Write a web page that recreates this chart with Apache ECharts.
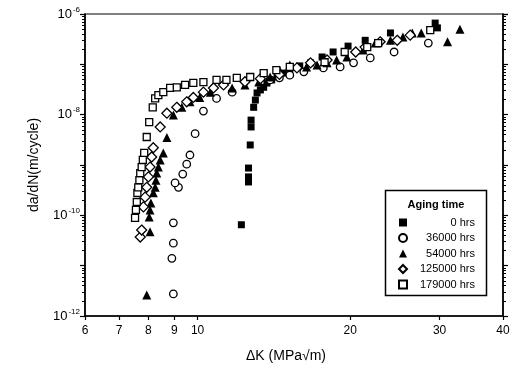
<!DOCTYPE html>
<html>
<head>
<meta charset="utf-8">
<script src="https://cdn.jsdelivr.net/npm/echarts@6/dist/echarts.min.js"></script>
<style>html,body{margin:0;padding:0;background:#fff}#c{width:517px;height:376px}</style>
</head>
<body>
<div id="c"></div>
<script>
// ---- data (ΔK in MPa√m, da/dN in m/cycle) ----
const names = ['0 hrs', '36000 hrs', '54000 hrs', '125000 hrs', '179000 hrs'];
const hrs0 = [[12.2,6.5e-11],[12.6,4.6e-10],[12.6,5.8e-10],[12.6,8.7e-10],[12.7,2.5e-9],[12.75,5.7e-9],[12.75,7.8e-9],[12.9,1.4e-8],[13.0,1.95e-8],[13.1,2.7e-8],[13.3,3.1e-8],[13.5,3.5e-8],[13.7,4.25e-8],[14.0,4.9e-8],[14.35,5.6e-8],[14.75,6.7e-8],[15.2,7.7e-8],[15.9,9.3e-8],[16.7,1.07e-7],[17.6,1.4e-7],[18.5,1.76e-7],[19.8,2.3e-7],[21.4,3.0e-7],[24.0,4.2e-7],[29.4,6.6e-7],[29.7,5.3e-7]];
const hrs36000 = [[8.96,2.75e-12],[8.9,1.4e-11],[8.96,2.8e-11],[8.96,7.1e-11],[9.17,3.6e-10],[9.03,4.4e-10],[9.35,6.6e-10],[9.52,1.04e-9],[9.66,1.58e-9],[9.89,4.2e-9],[10.27,1.18e-8],[10.9,2.1e-8],[11.7,2.8e-8],[13.9,4.9e-8],[14.5,5.4e-8],[15.2,6.1e-8],[16.2,7.1e-8],[17.7,8.5e-8],[19.1,8.9e-8],[20.3,1.07e-7],[21.9,1.34e-7],[24.4,1.76e-7],[28.5,2.65e-7]];
const hrs54000 = [[7.94,2.6e-12],[8.06,4.7e-11],[8.03,9.3e-11],[8.06,1.28e-10],[8.09,1.76e-10],[8.18,2.8e-10],[8.25,3.6e-10],[8.28,5.0e-10],[8.31,6.9e-10],[8.37,9.1e-10],[8.44,1.26e-9],[8.56,1.74e-9],[8.70,3.5e-9],[8.96,9.8e-9],[9.31,1.4e-8],[9.66,1.8e-8],[10.1,2.2e-8],[10.6,2.8e-8],[11.7,3.4e-8],[12.4,3.9e-8],[13.2,4.45e-8],[13.9,5.6e-8],[14.5,7.7e-8],[15.2,9.7e-8],[16.4,8.9e-8],[17.2,9.7e-8],[18.0,1.07e-7],[18.8,1.22e-7],[19.7,1.4e-7],[21.2,1.93e-7],[22.4,2.65e-7],[24.0,3.0e-7],[25.4,3.5e-7],[26.5,4.2e-7],[27.6,4.2e-7],[31.1,2.8e-7],[32.9,5.0e-7]];
const hrs125000 = [[7.71,3.7e-11],[7.76,5.1e-11],[7.82,1.47e-10],[7.88,2.3e-10],[7.94,3.6e-10],[8.00,5.8e-10],[8.06,9.1e-10],[8.12,1.44e-9],[8.18,2.2e-9],[8.44,5.7e-9],[8.70,1.07e-8],[9.10,1.4e-8],[9.52,1.8e-8],[9.81,2.2e-8],[10.27,2.8e-8],[10.75,3.4e-8],[11.25,3.9e-8],[12.4,4.5e-8],[13.3,5.2e-8],[14.5,6.3e-8],[15.7,8.5e-8],[16.7,1.07e-7],[18.0,1.22e-7],[20.5,1.76e-7],[21.4,2.2e-7],[22.9,2.8e-7],[24.75,3.0e-7],[26.25,3.8e-7]];
const hrs179000 = [[7.53,8.9e-11],[7.56,1.28e-10],[7.59,1.84e-10],[7.61,2.8e-10],[7.64,3.6e-10],[7.68,5.0e-10],[7.71,6.9e-10],[7.76,9.1e-10],[7.80,1.26e-9],[7.85,1.74e-9],[7.94,3.6e-9],[8.03,7.1e-9],[8.16,1.4e-8],[8.25,2.1e-8],[8.37,2.45e-8],[8.56,2.8e-8],[8.83,3.4e-8],[9.10,3.5e-8],[9.45,3.9e-8],[9.81,4.3e-8],[10.27,4.45e-8],[10.9,4.9e-8],[11.4,4.9e-8],[11.95,5.4e-8],[12.7,5.6e-8],[13.5,6.7e-8],[14.3,7.7e-8],[15.2,8.9e-8],[17.8,1.1e-7],[19.5,1.76e-7],[21.6,2.2e-7],[22.7,2.65e-7],[28.75,4.8e-7]];
const xTicks = [6, 7, 8, 9, 10, 20, 30, 40];
const yLabelExps = [-12, -10, -8, -6];
const yMin = 1e-12, yMax = 1e-6;

// minor tick positions (2..9 within each decade)
const yMinor = [];
for (let e = -12; e < -6; e++) for (let m = 2; m <= 9; m++) yMinor.push(+(m * Math.pow(10, e)).toPrecision(3));

const FONT = 'Liberation Sans';
const chart = echarts.init(document.getElementById('c'), null, {renderer: 'canvas'});

function yAx(pos, major, labels) {
  return {
    type: 'log', logBase: 10, min: yMin, max: yMax, interval: 1, position: pos, offset: 0,
    axisLine: {show: major, onZero: false, lineStyle: {color: '#000', width: 1.6}},
    axisTick: major ? {show: true, length: 5, lineStyle: {color: '#000', width: 1.2}}
                    : {show: true, length: 3, customValues: yMinor, lineStyle: {color: '#000', width: 1}},
    splitLine: {show: false},
    axisLabel: labels ? {
      show: true, margin: 5, color: '#000', fontFamily: FONT,
      formatter: v => { const e = Math.round(Math.log10(v)); return yLabelExps.includes(e) ? '{b|10}{s|' + e + '}' : ''; },
      rich: {b: {fontSize: 13, fontFamily: FONT, color: '#000'}, s: {fontSize: 8, fontFamily: FONT, color: '#000', padding: [0, 0, 9, 1]}}
    } : {show: true, formatter: () => ''}
  };
}

const sym = {
  '0 hrs': {symbol: 'rect', size: 7, fill: '#000'},
  '36000 hrs': {symbol: 'circle', size: 7.5, fill: '#fff'},
  '54000 hrs': {symbol: 'triangle', size: 9, fill: '#000'},
  '125000 hrs': {symbol: 'diamond', size: 10, fill: '#fff'},
  '179000 hrs': {symbol: 'rect', size: 7, fill: '#fff'}
};
const datasets = [hrs0, hrs36000, hrs54000, hrs125000, hrs179000];

chart.setOption({
  animation: false,
  backgroundColor: '#fff',
  grid: {left: 85, right: 14, top: 14, bottom: 60, show: true, borderColor: '#000', borderWidth: 1.2, backgroundColor: 'transparent'},
  xAxis: {
    type: 'log', logBase: 10, min: 6, max: 40,
    name: 'ΔK (MPa√m)', nameLocation: 'middle', nameGap: 33,
    nameTextStyle: {fontSize: 14, fontFamily: FONT, color: '#000', padding: [0, 16, 0, 0]},
    axisLine: {onZero: false, lineStyle: {color: '#000', width: 1.6}},
    axisTick: {show: true, length: 4, customValues: xTicks, lineStyle: {color: '#000', width: 1.2}},
    axisLabel: {customValues: xTicks, margin: 9, fontSize: 12, fontFamily: FONT, color: '#000', formatter: v => String(v)},
    splitLine: {show: false}
  },
  yAxis: [
    Object.assign(yAx('left', true, true), {
      name: 'da/dN(m/cycle)', nameLocation: 'middle', nameGap: 44, nameRotate: 90,
      nameTextStyle: {fontSize: 14, fontFamily: FONT, color: '#000'}
    }),
    yAx('left', false, false),
    yAx('right', true, false),
    yAx('right', false, false)
  ],
  legend: {
    orient: 'vertical', left: 393, top: 212, itemWidth: 8, itemHeight: 8, itemGap: 4.5,
    data: names,
    textStyle: {fontSize: 11, fontFamily: FONT, color: '#000', lineHeight: 11,
      rich: {r: {width: 63, align: 'right', fontSize: 11, fontFamily: FONT, color: '#000'}}},
    formatter: n => '{r|' + n + '}'
  },
  graphic: [
    {type: 'rect', z: 3, shape: {x: 385.5, y: 190.5, width: 101, height: 105},
     style: {fill: '#fff', stroke: '#000', lineWidth: 1.5}},
    {type: 'text', z: 4, x: 436, y: 205,
     style: {text: 'Aging time', fontSize: 11, fontWeight: 'bold', fontFamily: FONT, fill: '#000', align: 'center', verticalAlign: 'middle'}}
  ],
  series: names.map((n, i) => ({
    name: n, type: 'scatter', xAxisIndex: 0, yAxisIndex: 0,
    symbol: sym[n].symbol, symbolSize: sym[n].size,
    itemStyle: {color: sym[n].fill, borderColor: '#000', borderWidth: sym[n].fill === '#fff' ? 1.3 : 0, opacity: 1},
    data: datasets[i]
  }))
});
</script>
</body>
</html>
